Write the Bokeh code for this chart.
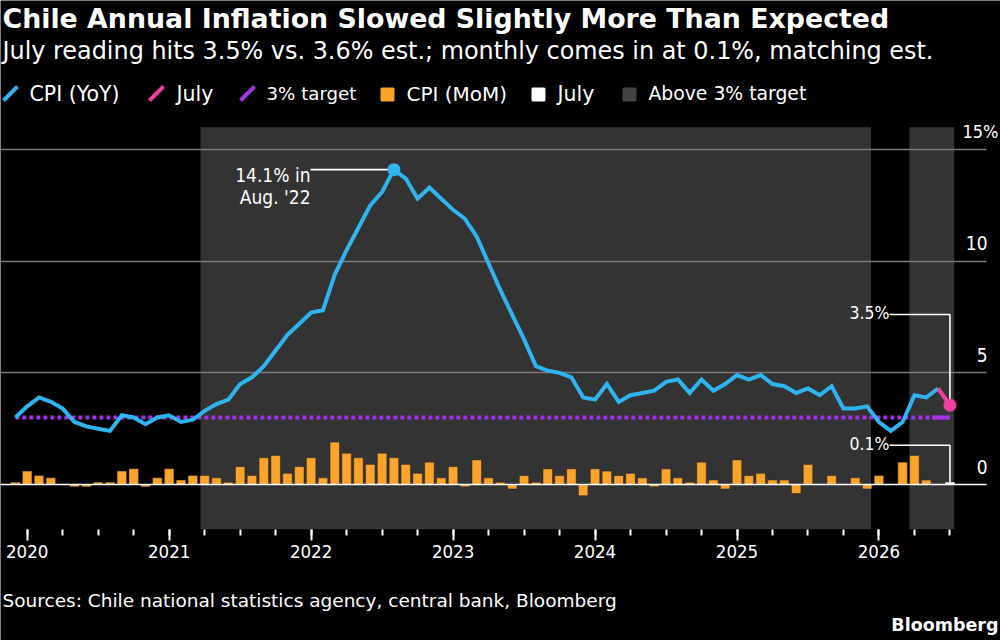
from bokeh.plotting import figure
from bokeh.models import LinearAxis, FixedTicker, Grid, Label, Range1d
from bokeh.embed import file_html
from bokeh.resources import INLINE

# ---- data (index 0 = Jan 2020, one step per month) ----
months = list(range(-1, 79))
cpi_yoy = [3.0, 3.5, 3.9, 3.7, 3.4, 2.8, 2.6, 2.5, 2.4, 3.1, 3.0, 2.7,
           3.0, 3.1, 2.8, 2.9, 3.3, 3.6, 3.8, 4.5, 4.8, 5.3, 6.0, 6.7,
           7.2, 7.7, 7.8, 9.4, 10.5, 11.5, 12.5, 13.1, 14.1, 13.7, 12.8, 13.3,
           12.8, 12.3, 11.9, 11.1, 9.9, 8.7, 7.6, 6.5, 5.3, 5.1, 5.0, 4.8,
           3.9, 3.8, 4.5, 3.7, 4.0, 4.1, 4.2, 4.6, 4.7, 4.1, 4.7, 4.2,
           4.5, 4.9, 4.7, 4.9, 4.5, 4.4, 4.1, 4.3, 4.0, 4.4, 3.4, 3.4,
           3.5, 2.8, 2.4, 2.8, 4.0, 3.9, 4.3, 3.55]
cpi_mom = [0.1, 0.6, 0.4, 0.3, 0.0, -0.1, -0.1, 0.1, 0.1, 0.6, 0.7, -0.1,
           0.3, 0.7, 0.2, 0.4, 0.4, 0.3, 0.1, 0.8, 0.4, 1.2, 1.3, 0.5,
           0.8, 1.2, 0.3, 1.9, 1.4, 1.2, 0.9, 1.4, 1.2, 0.9, 0.5, 1.0,
           0.3, 0.8, -0.1, 1.1, 0.3, 0.1, -0.2, 0.4, 0.1, 0.7, 0.4, 0.7,
           -0.5, 0.7, 0.6, 0.4, 0.5, 0.3, -0.1, 0.7, 0.3, 0.1, 1.0, 0.2,
           -0.2, 1.1, 0.4, 0.5, 0.2, 0.2, -0.4, 0.9, 0.0, 0.4, 0.0, 0.3,
           -0.2, 0.4, 0.0, 1.0, 1.3, 0.2, 0.0, 0.1]
target_value = 3.0
band_starts = [14.65, 74.57]
band_ends = [71.33, 78.36]
year_ticks = [0, 12, 24, 36, 48, 60, 72]
year_labels = ["2020", "2021", "2022", "2023", "2024", "2025", "2026"]
quarter_ticks = list(range(0, 79, 3))
y_ticks = [0, 5, 10, 15]
y_labels = ["0", "5", "10", "15%"]

# ---- page geometry (reference pixels -> figure) ----
W, H = 1000, 640
XS, X0 = 11.83, 26.7   # px per month; px of Jan 2020
YS, Y0 = 22.33, 484.0  # px per unit; px of zero


def X(px):
    return (px - X0) / XS


def Y(py):
    return (Y0 - py) / YS


BLUE, PINK, PURPLE = "#2fb4ef", "#f03ea0", "#a233e6"
ORANGE, BAND = "#fba42b", "#333333"
FONT = "DejaVu Sans"
NARROW = "DejaVu Sans Condensed"

p = figure(width=W, height=H, output_backend="svg", toolbar_location=None,
           x_range=Range1d(X(0), X(W)),
           y_range=Range1d(Y(H), Y(0)),
           x_axis_location=None, y_axis_location=None,
           background_fill_color="#000000", border_fill_color="#000000",
           min_border_left=0, min_border_right=0, min_border_top=0, min_border_bottom=0,
           outline_line_color=None)
p.grid.visible = False

# shaded bands
p.quad(left=band_starts, right=band_ends, bottom=-2, top=16,
       fill_color=BAND, line_color=None, level="image")

# grid lines
grid_span = (X(0), X(986))
p.add_layout(Grid(dimension=1, ticker=FixedTicker(ticks=y_ticks[1:]), cross_bounds=grid_span,
                  grid_line_color="#7a7a7a", grid_line_width=1.4))

# bars
p.vbar(x=months[:-1], top=cpi_mom[:-1], bottom=0, width=0.8,
       fill_color=ORANGE, line_color="#222222", line_width=0.5)
p.vbar(x=months[-1:], top=cpi_mom[-1:], bottom=0, width=0.8,
       fill_color="#ffffff", line_color=None)
p.add_layout(Grid(dimension=1, ticker=FixedTicker(ticks=[0]), level="guide", cross_bounds=grid_span,
                  grid_line_color="#ffffff", grid_line_width=1.6))

# target
p.line(months, [target_value] * len(months), line_color=PURPLE, line_width=4,
       line_dash=[4, 3])
p.line([76.5, months[-1]], [target_value, target_value], line_color=PURPLE, line_width=4)

# leaders (white)
for xs, ys in [([X(310), months[32]], [cpi_yoy[32], cpi_yoy[32]]),
               ([X(889), months[-1], months[-1]], [Y(314), Y(314), cpi_yoy[-1]]),
               ([X(889), months[-1], months[-1]], [Y(444.7), Y(444.7), cpi_mom[-1]])]:
    p.line(xs, ys, line_color="#ffffff", line_width=1.6)

# CPI YoY
p.line(months[:-1], cpi_yoy[:-1], line_color=BLUE, line_width=4, line_join="miter")
p.line(months[-2:], cpi_yoy[-2:], line_color=PINK, line_width=4)
p.scatter([months[32]], [cpi_yoy[32]], size=13, fill_color=BLUE, line_color=None)
p.scatter([months[-1]], [cpi_yoy[-1]], size=13, fill_color=PINK, line_color=None)

# x axis
xaxis = LinearAxis(fixed_location=-2,
                   ticker=FixedTicker(ticks=year_ticks, minor_ticks=quarter_ticks),
                   major_label_overrides={t: s for t, s in zip(year_ticks, year_labels)},
                   axis_line_color=None,
                   major_tick_line_color="#ffffff", major_tick_line_width=2,
                   major_tick_in=0, major_tick_out=11,
                   minor_tick_line_color="#ffffff", minor_tick_line_width=2,
                   minor_tick_in=0, minor_tick_out=6,
                   major_label_text_color="#ffffff", major_label_text_font=NARROW,
                   major_label_text_font_size="18.5px", major_label_standoff=5)
p.add_layout(xaxis, "below")


def text(s, px, py, size=19, align="left", bold=False, color="#ffffff", font=FONT):
    p.add_layout(Label(x=px, y=H - py, x_units="screen", y_units="screen",
                       text=s, text_color=color, text_font=font,
                       text_font_size=f"{size}px", text_align=align, text_baseline="middle",
                       text_font_style="bold" if bold else "normal"))


# y tick labels, sitting above their grid lines
for v, s in zip(y_ticks, y_labels):
    pct = s.endswith("%")
    text(s, 998 if pct else 987, Y0 - v * YS - 18, size=18 if pct else 19, align="right", font=NARROW)

# headline
text("Chile Annual Inflation Slowed Slightly More Than Expected", 2, 18, size=26.8, bold=True)
text("July reading hits 3.5% vs. 3.6% est.; monthly comes in at 0.1%, matching est.", 2, 50, size=23.9)

# legend
for s, px, size in [("CPI (YoY)", 29, 20.5), ("July", 176, 20.5), ("3% target", 266, 18.2),
                    ("CPI (MoM)", 406, 20), ("July", 557, 20.5), ("Above 3% target", 648, 18.8)]:
    text(s, px, 93, size=size)
for c, px in [(BLUE, 2), (PINK, 148), (PURPLE, 239)]:
    p.line([X(px + 1), X(px + 15)], [Y(100), Y(86)], line_color=c, line_width=4)
for c, px in [(ORANGE, 380), ("#ffffff", 531), ("#444444", 622)]:
    p.quad(left=[X(px + 1.5)], right=[X(px + 12.5)], bottom=[Y(99.5)], top=[Y(88.5)],
           fill_color=c, line_color=c, line_width=3, line_join="round")

# annotations
text("14.1% in", 310, 174, align="right", font=NARROW)
text("Aug. '22", 310, 196, align="right", font=NARROW)
text("3.5%", 889, 312, size=17.5, align="right", font=NARROW)
text("0.1%", 889, 443, size=17.5, align="right", font=NARROW)

# footer
text("Sources: Chile national statistics agency, central bank, Bloomberg", 2, 600, size=18.5)
text("Bloomberg", 998, 624, size=17.5, align="right", bold=True)

open("out.html", "w").write(file_html(p, INLINE))
